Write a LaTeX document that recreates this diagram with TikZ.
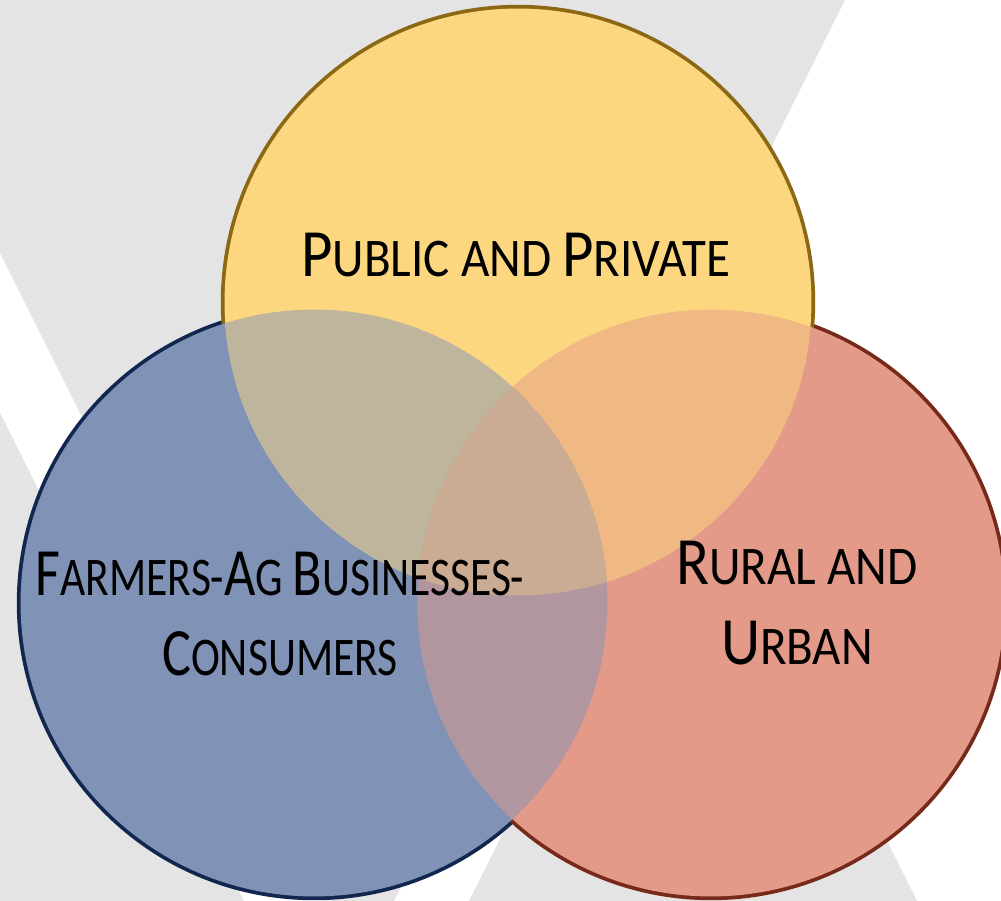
\documentclass[tikz,border=0pt]{standalone}
\usepackage{fontspec}
\setmainfont[FakeStretch=0.9]{Carlito}
\newfontfamily\narrowfont[FakeStretch=0.8]{Carlito}
\definecolor{bggray}{HTML}{E4E4E4}
\definecolor{pubfill}{HTML}{FDD780}
\definecolor{publine}{HTML}{8C6814}
\definecolor{farmfill}{HTML}{8093B7}
\definecolor{farmline}{HTML}{12274F}
\definecolor{ruralfill}{HTML}{E39A88}
\definecolor{ruralline}{HTML}{782A1A}
\colorlet{pubfarm}{pubfill!50!farmfill}
\colorlet{pubrural}{pubfill!50!ruralfill}
\colorlet{farmrural}{farmfill!50!ruralfill}
\colorlet{allthree}{pubfarm!67!ruralfill}
\newcommand{\initial}[1]{{\fontsize{38.5}{45.5}\selectfont #1}}
\def\rad{5.87cm}

\begin{document}
\begin{tikzpicture}[x=0.02cm,y=-0.02cm,
	ring/.style={line width=0.15cm},
	vennlabel/.style={font=\fontsize{31}{45.5}\selectfont, align=center, inner sep=0pt}]
	\useasboundingbox (0,0) rectangle (1001,901);
	\clip (0,0) rectangle (1001,901);
	
	% background stripes
	\fill[white] (0,0) rectangle (1001,901);
	\fill[bggray] (0,0) -- (845,0) -- (359,971) -- (0,253) -- cycle;
	\fill[bggray] (0,413) -- (254,921) -- (0,921) -- cycle;
	\fill[bggray] (693,453) -- (927,921) -- (459,921) -- cycle;
	
	% circle centres
	\coordinate (pub) at (518,302);
	\coordinate (farm) at (314,603);
	\coordinate (rural) at (711,603);
	
	% outlines first, fills hide the inner half
	\foreach \c/\col in {farm/farmline, rural/ruralline, pub/publine}
		\draw[ring, \col] (\c) circle (\rad);
	\foreach \c/\col in {farm/farmfill, rural/ruralfill, pub/pubfill}
		\fill[\col] (\c) circle (\rad);
	
	% overlaps
	\begin{scope}
		\clip (pub) circle (\rad);
		\fill[pubfarm] (farm) circle (\rad);
		\fill[pubrural] (rural) circle (\rad);
	\end{scope}
	\begin{scope}
		\clip (farm) circle (\rad);
		\fill[farmrural] (rural) circle (\rad);
		\clip (pub) circle (\rad);
		\fill[allthree] (rural) circle (\rad);
	\end{scope}
	
	% labels
	\node[vennlabel] (pubtext) at (516,255) {\initial{P}UBLIC AND \initial{P}RIVATE};
	\node[vennlabel, font=\narrowfont\fontsize{31}{45.5}\selectfont] (farmtext) at (280,614) {\initial{F}ARMERS-\initial{A}G \initial{B}USINESSES-\\\initial{C}ONSUMERS};
	\node[vennlabel] (ruraltext) at (797,603) {\initial{R}URAL AND\\\initial{U}RBAN};
\end{tikzpicture}
\end{document}
